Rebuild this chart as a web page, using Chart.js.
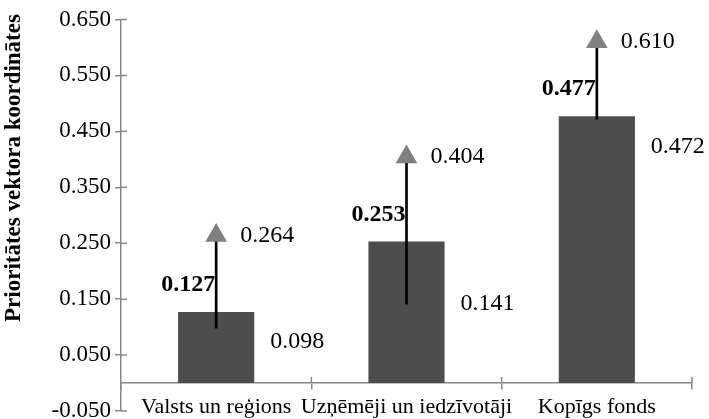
<!DOCTYPE html>
<html lang="lv">
<head>
    <meta charset="UTF-8">
    <title>Prioritātes vektora koordinātes</title>
    <script src="https://cdn.jsdelivr.net/npm/chart.js"></script>
    <style>
      html, body { margin: 0; padding: 0; background: #fff; }
      #wrap { width: 709px; height: 419px; }
    </style>
</head>
<body>
  <div id="wrap"><canvas id="chart" width="709" height="419"></canvas></div>

  <script>
    const categories = ['Valsts un reģions', 'Uzņēmēji un iedzīvotāji', 'Kopīgs fonds'];
    const priority = [0.127, 0.253, 0.477];
    const lowValues = [0.098, 0.141, 0.472];
    const highValues = [0.264, 0.404, 0.610];
    const yTitle = 'Prioritātes vektora koordinātes';

    const serif = '"Liberation Serif", "Times New Roman", serif';
    const axisGray = '#868686';

    // value labels next to bars, ranges and triangles
    const labelPlugin = {
      id: 'labels',
      afterDatasetsDraw(chart) {
        const { ctx, scales: { x, y } } = chart;
        ctx.save();
        ctx.fillStyle = '#000';
        ctx.textBaseline = 'middle';
        categories.forEach((c, i) => {
          const cx = x.getPixelForValue(i);
          const top = y.getPixelForValue(priority[i]);
          ctx.font = 'bold 24px ' + serif;
          ctx.textAlign = 'right';
          ctx.fillText(priority[i].toFixed(3), cx - 1, top - 27);

          ctx.font = '24px ' + serif;
          ctx.textAlign = 'left';
          ctx.fillText(highValues[i].toFixed(3), cx + 24, y.getPixelForValue(highValues[i]));
          const lowY = Math.max(y.getPixelForValue(lowValues[i]), top + 30);
          ctx.fillText(lowValues[i].toFixed(3), cx + 54, lowY);
        });
        // axis title, sits a bit above the middle like the original
        ctx.translate(14, 168);
        ctx.rotate(-Math.PI / 2);
        ctx.textAlign = 'center';
        ctx.font = 'bold 23px ' + serif;
        ctx.fillText(yTitle, 0, 0);
        ctx.restore();
      }
    };

    // tick marks that cross the axis lines (inner half)
    const innerTicks = {
      id: 'innerTicks',
      afterDraw(chart) {
        const { ctx, scales: { x, y } } = chart;
        ctx.save();
        ctx.strokeStyle = axisGray;
        ctx.lineWidth = 1.5;
        ctx.beginPath();
        y.ticks.forEach((t, i) => {
          const py = y.getPixelForTick(i);
          ctx.moveTo(y.right, py);
          ctx.lineTo(y.right + 6, py);
        });
        const x0 = y.getPixelForValue(0);
        for (let i = 1; i <= categories.length; i++) {
          const px = x.getPixelForValue(i - 0.5);
          ctx.moveTo(px, x0);
          ctx.lineTo(px, x0 - 6);
        }
        ctx.stroke();
        ctx.restore();
      }
    };

    new Chart(document.getElementById('chart'), {
      data: {
        labels: categories,
        datasets: [
          {
            type: 'line',
            data: highValues,
            showLine: false,
            pointStyle: 'triangle',
            pointRadius: 12.5,
            pointBackgroundColor: '#808080',
            pointBorderColor: '#808080',
            pointBorderWidth: 0,
            order: 0
          },
          {
            type: 'bar',
            data: lowValues.map((v, i) => [v, highValues[i]]),
            backgroundColor: '#000',
            barThickness: 2,
            grouped: false,
            order: 1
          },
          {
            type: 'bar',
            data: priority,
            backgroundColor: '#4d4d4d',
            categoryPercentage: 1,
            barPercentage: 0.4,
            grouped: false,
            order: 2
          }
        ]
      },
      options: {
        responsive: false,
        animation: false,
        layout: { autoPadding: false, padding: { top: 19.5, right: 17, bottom: 8, left: 0 } },
        plugins: {
          legend: { display: false },
          tooltip: { enabled: false }
        },
        scales: {
          x: {
            position: { y: 0 },
            offset: true,
            afterFit(scale) { scale.height = 0; },
            grid: {
              offset: true,
              drawOnChartArea: false,
              tickLength: 6,
              color: axisGray,
              lineWidth: 1.5
            },
            border: { color: axisGray, width: 1.5 },
            ticks: {
              color: '#000',
              font: { family: serif, size: 22 },
              padding: 5,
              autoSkip: false,
              maxRotation: 0
            }
          },
          y: {
            min: -0.05,
            max: 0.65,
            afterFit(scale) {
              scale.width = 121;
              scale.paddingTop = 0;
              scale.paddingBottom = 0;
            },
            ticks: {
              stepSize: 0.1,
              color: '#000',
              font: { family: serif, size: 23 },
              padding: 4,
              callback: v => v.toFixed(3)
            },
            grid: {
              drawOnChartArea: false,
              tickLength: 6,
              color: axisGray,
              lineWidth: 1.5
            },
            border: { color: axisGray, width: 1.5 }
          }
        }
      },
      plugins: [labelPlugin, innerTicks]
    });
  </script>
</body>
</html>
